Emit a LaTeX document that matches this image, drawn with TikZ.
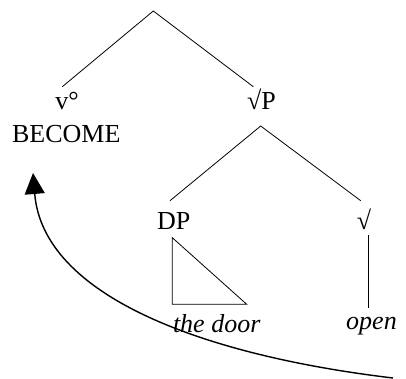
\documentclass[tikz,border=0pt]{standalone}
\usepackage{fontspec}
\setmainfont{Liberation Serif}
\usetikzlibrary{arrows.meta}
\begin{document}
\begin{tikzpicture}[x=1pt,y=-1pt,
  lbl/.style={anchor=base,inner sep=0pt,font=\fontsize{26}{30}\selectfont},
  edge/.style={line width=0.8pt},
  move/.style={line width=1.4pt,-{Triangle[length=21pt,width=20pt]}}]
\useasboundingbox (0,0) rectangle (406,379);
% labels
\node[lbl] (v) at (67,110) {v°};
\node[lbl] (become) at (66.3,143) {BECOME};
\node[lbl] (rp) at (261.5,110) {√P};
\node[lbl] (dp) at (173.7,229) {DP};
\node[lbl] (root2) at (364,229) {√};
\node[lbl] (door) at (216.7,332) {\itshape the door};
\node[lbl] (open) at (371.5,329.5) {\itshape open};
% connector ends
\coordinate (top) at (153.3,11);
\coordinate (vT) at (62.3,86.7);
\coordinate (rpT) at (253.3,86.7);
\coordinate (rpB) at (260.7,126);
\coordinate (dpT) at (170,200.7);
\coordinate (r2T) at (360.7,200.7);
\coordinate (triA) at (172.3,237.7);
\coordinate (triB) at (172.3,304.3);
\coordinate (triC) at (246.7,304.3);
\coordinate (r2B) at (368.3,235);
\coordinate (openT) at (368.3,308.3);
\coordinate (start) at (393,378);
\coordinate (tip) at (33,173);
% tree
\draw[edge] (vT) -- (top) -- (rpT);
\draw[edge] (dpT) -- (rpB) -- (r2T);
\draw[edge] (triA) -- (triB) -- (triC) -- cycle;
\draw[edge] (r2B) -- (openT);
% movement arrow
\draw[move] (start) .. controls (200,355) and (43,295) .. (tip);
\end{tikzpicture}
\end{document}
